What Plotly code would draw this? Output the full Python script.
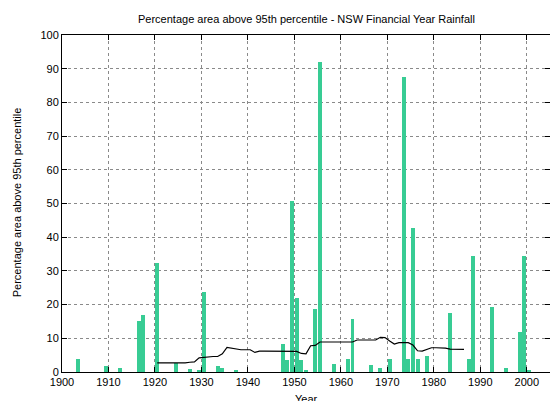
import plotly.graph_objects as go

# Financial years (starting year) with area above the 95th percentile
bar_years = [1903, 1909, 1912, 1916, 1917, 1920, 1924, 1927, 1929, 1930,
             1933, 1934, 1937, 1947, 1948, 1949, 1950, 1951, 1952, 1954,
             1955, 1958, 1961, 1962, 1966, 1968, 1970, 1973, 1974, 1975,
             1976, 1978, 1983, 1987, 1988, 1992, 1995, 1998, 1999, 2000]
bar_pct = [3.9, 1.7, 1.3, 15.0, 16.8, 32.4, 2.8, 1.0, 0.5, 23.6,
           1.7, 1.2, 0.6, 8.4, 3.5, 50.8, 22.0, 3.6, 0.5, 18.6,
           92.1, 2.5, 3.9, 15.6, 2.2, 1.1, 4.0, 87.4, 3.9, 42.6,
           3.9, 4.7, 17.5, 4.0, 34.4, 19.3, 1.2, 11.8, 34.3, 0.5]

# Running mean, 1920-1986
mean_years = list(range(1920, 1987))
mean_pct = [2.7, 2.7, 2.7, 2.6, 2.6, 2.6, 2.7, 2.9, 3.0, 4.2,
            4.4, 4.6, 4.6, 4.6, 5.4, 7.3, 7.0, 6.7, 6.6, 6.6,
            6.6, 5.8, 6.2, 6.2, 6.2, 6.2, 6.2, 6.2, 6.2, 6.2,
            6.1, 5.5, 5.4, 7.8, 7.9, 8.9, 8.9, 8.9, 8.9, 8.9,
            8.9, 8.9, 8.9, 9.5, 9.5, 9.5, 9.5, 9.5, 10.3, 10.2,
            9.2, 8.3, 8.7, 8.7, 8.7, 8.0, 6.3, 6.2, 6.6, 7.2,
            7.2, 7.2, 7.1, 6.8, 6.7, 6.7, 6.7]

x_ticks = list(range(1900, 2001, 10))
y_ticks = list(range(0, 101, 10))

FONT = "Liberation Sans, Arial, sans-serif"

fig = go.Figure()
# each financial year is drawn across its own year interval
fig.add_trace(go.Bar(
    x=[y + 0.5 for y in bar_years], y=bar_pct, width=0.85,
    marker=dict(color="#38cc94", line=dict(width=0)),
    showlegend=False,
))
fig.add_trace(go.Scatter(
    x=[y + 0.5 for y in mean_years], y=mean_pct, mode="lines",
    line=dict(color="black", width=1.2), showlegend=False,
))

axis_common = dict(
    showline=True, linecolor="black", linewidth=1, mirror="allticks",
    ticks="inside", ticklen=5, tickcolor="black",
    showgrid=True, gridcolor="#8a8a8a", griddash="dot", gridwidth=1,
    zeroline=False, tickfont=dict(family=FONT, size=11, color="black"),
)
fig.update_xaxes(range=[1900, 2005], tickvals=x_ticks, **axis_common)
fig.update_yaxes(range=[0, 100], tickvals=y_ticks, **axis_common)

fig.update_layout(
    width=550, height=401,
    margin=dict(l=62, r=0, t=35, b=29),
    plot_bgcolor="white", paper_bgcolor="white",
    bargap=0, font=dict(family=FONT, color="black"),
    annotations=[
        dict(text="Percentage area above 95th percentile - NSW Financial Year Rainfall",
             xref="paper", yref="paper", x=0.5, y=1.0475, xanchor="center",
             yanchor="middle", showarrow=False, font=dict(size=11)),
        dict(text="Year", xref="paper", yref="paper", x=0.5, y=-0.081,
             xanchor="center", yanchor="middle", showarrow=False, font=dict(size=11)),
        dict(text="Percentage area above 95th percentile", xref="paper", yref="paper",
             x=-0.092, y=0.504, xanchor="center", yanchor="middle", textangle=-90,
             showarrow=False, font=dict(size=11)),
    ],
)

fig.write_html("out.html")
